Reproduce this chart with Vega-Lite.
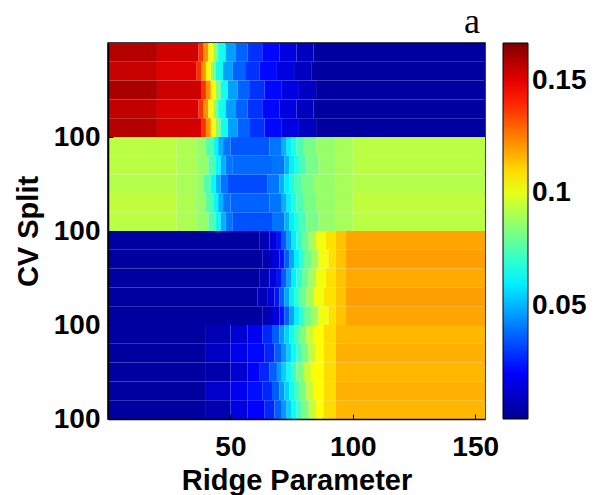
{
"$schema":"https://vega.github.io/schema/vega-lite/v6.json",
"width":377,"height":376,
"autosize":{"type":"none"},
"padding":{"left":108,"top":43,"right":114,"bottom":76},
"background":"white",
"title":{"text":"a","font":"Liberation Serif","fontSize":36,"fontWeight":"normal","anchor":"end","frame":"group","baseline":"bottom","offset":-34,"dx":-5,"color":"black"},
"data":{"values":[
{"x":0,"x2":20,"y":0,"y2":20,"v":0.158},{"x":20,"x2":37,"y":0,"y2":20,"v":0.153},{"x":37,"x2":39,"y":0,"y2":20,"v":0.138},{"x":39,"x2":41,"y":0,"y2":20,"v":0.122},{"x":41,"x2":43,"y":0,"y2":20,"v":0.105},{"x":43,"x2":45,"y":0,"y2":20,"v":0.085},{"x":45,"x2":48,"y":0,"y2":20,"v":0.065},{"x":48,"x2":52,"y":0,"y2":20,"v":0.047},{"x":52,"x2":57,"y":0,"y2":20,"v":0.037},{"x":57,"x2":63,"y":0,"y2":20,"v":0.029},{"x":63,"x2":70,"y":0,"y2":20,"v":0.022},{"x":70,"x2":77,"y":0,"y2":20,"v":0.015},{"x":77,"x2":84,"y":0,"y2":20,"v":0.009},{"x":84,"x2":154,"y":0,"y2":20,"v":0.003},
{"x":0,"x2":20,"y":20,"y2":40,"v":0.155},{"x":20,"x2":36,"y":20,"y2":40,"v":0.151},{"x":36,"x2":38,"y":20,"y2":40,"v":0.138},{"x":38,"x2":40,"y":20,"y2":40,"v":0.122},{"x":40,"x2":42,"y":20,"y2":40,"v":0.105},{"x":42,"x2":44,"y":20,"y2":40,"v":0.085},{"x":44,"x2":47,"y":20,"y2":40,"v":0.065},{"x":47,"x2":51,"y":20,"y2":40,"v":0.047},{"x":51,"x2":56,"y":20,"y2":40,"v":0.037},{"x":56,"x2":62,"y":20,"y2":40,"v":0.029},{"x":62,"x2":69,"y":20,"y2":40,"v":0.022},{"x":69,"x2":76,"y":20,"y2":40,"v":0.015},{"x":76,"x2":83,"y":20,"y2":40,"v":0.009},{"x":83,"x2":154,"y":20,"y2":40,"v":0.003},
{"x":0,"x2":20,"y":40,"y2":60,"v":0.160},{"x":20,"x2":38,"y":40,"y2":60,"v":0.154},{"x":38,"x2":40,"y":40,"y2":60,"v":0.138},{"x":40,"x2":42,"y":40,"y2":60,"v":0.122},{"x":42,"x2":44,"y":40,"y2":60,"v":0.105},{"x":44,"x2":46,"y":40,"y2":60,"v":0.085},{"x":46,"x2":49,"y":40,"y2":60,"v":0.065},{"x":49,"x2":53,"y":40,"y2":60,"v":0.047},{"x":53,"x2":58,"y":40,"y2":60,"v":0.037},{"x":58,"x2":64,"y":40,"y2":60,"v":0.029},{"x":64,"x2":71,"y":40,"y2":60,"v":0.022},{"x":71,"x2":78,"y":40,"y2":60,"v":0.015},{"x":78,"x2":85,"y":40,"y2":60,"v":0.009},{"x":85,"x2":154,"y":40,"y2":60,"v":0.003},
{"x":0,"x2":20,"y":60,"y2":80,"v":0.156},{"x":20,"x2":37,"y":60,"y2":80,"v":0.152},{"x":37,"x2":39,"y":60,"y2":80,"v":0.138},{"x":39,"x2":41,"y":60,"y2":80,"v":0.122},{"x":41,"x2":43,"y":60,"y2":80,"v":0.105},{"x":43,"x2":45,"y":60,"y2":80,"v":0.085},{"x":45,"x2":48,"y":60,"y2":80,"v":0.065},{"x":48,"x2":52,"y":60,"y2":80,"v":0.047},{"x":52,"x2":57,"y":60,"y2":80,"v":0.037},{"x":57,"x2":63,"y":60,"y2":80,"v":0.029},{"x":63,"x2":70,"y":60,"y2":80,"v":0.022},{"x":70,"x2":77,"y":60,"y2":80,"v":0.015},{"x":77,"x2":84,"y":60,"y2":80,"v":0.009},{"x":84,"x2":154,"y":60,"y2":80,"v":0.003},
{"x":0,"x2":20,"y":80,"y2":100,"v":0.158},{"x":20,"x2":38,"y":80,"y2":100,"v":0.153},{"x":38,"x2":40,"y":80,"y2":100,"v":0.138},{"x":40,"x2":42,"y":80,"y2":100,"v":0.122},{"x":42,"x2":44,"y":80,"y2":100,"v":0.105},{"x":44,"x2":46,"y":80,"y2":100,"v":0.085},{"x":46,"x2":49,"y":80,"y2":100,"v":0.065},{"x":49,"x2":53,"y":80,"y2":100,"v":0.047},{"x":53,"x2":58,"y":80,"y2":100,"v":0.037},{"x":58,"x2":64,"y":80,"y2":100,"v":0.029},{"x":64,"x2":71,"y":80,"y2":100,"v":0.022},{"x":71,"x2":78,"y":80,"y2":100,"v":0.015},{"x":78,"x2":85,"y":80,"y2":100,"v":0.009},{"x":85,"x2":154,"y":80,"y2":100,"v":0.003},

{"x":0,"x2":28,"y":100,"y2":120,"v":0.093},{"x":28,"x2":36,"y":100,"y2":120,"v":0.091},{"x":36,"x2":40,"y":100,"y2":120,"v":0.087},{"x":40,"x2":43,"y":100,"y2":120,"v":0.076},{"x":43,"x2":45,"y":100,"y2":120,"v":0.062},{"x":45,"x2":47,"y":100,"y2":120,"v":0.050},{"x":47,"x2":50,"y":100,"y2":120,"v":0.040},{"x":50,"x2":66,"y":100,"y2":120,"v":0.035},{"x":66,"x2":71,"y":100,"y2":120,"v":0.040},{"x":71,"x2":73,"y":100,"y2":120,"v":0.050},{"x":73,"x2":75,"y":100,"y2":120,"v":0.060},{"x":75,"x2":77,"y":100,"y2":120,"v":0.067},{"x":77,"x2":80,"y":100,"y2":120,"v":0.075},{"x":80,"x2":85,"y":100,"y2":120,"v":0.082},{"x":85,"x2":93,"y":100,"y2":120,"v":0.087},{"x":93,"x2":100,"y":100,"y2":120,"v":0.090},{"x":100,"x2":154,"y":100,"y2":120,"v":0.093},
{"x":0,"x2":28,"y":120,"y2":140,"v":0.093},{"x":28,"x2":36,"y":120,"y2":140,"v":0.091},{"x":36,"x2":41,"y":120,"y2":140,"v":0.087},{"x":41,"x2":44,"y":120,"y2":140,"v":0.076},{"x":44,"x2":46,"y":120,"y2":140,"v":0.062},{"x":46,"x2":48,"y":120,"y2":140,"v":0.050},{"x":48,"x2":51,"y":120,"y2":140,"v":0.040},{"x":51,"x2":67,"y":120,"y2":140,"v":0.038},{"x":67,"x2":72,"y":120,"y2":140,"v":0.040},{"x":72,"x2":74,"y":120,"y2":140,"v":0.050},{"x":74,"x2":76,"y":120,"y2":140,"v":0.060},{"x":76,"x2":78,"y":120,"y2":140,"v":0.067},{"x":78,"x2":81,"y":120,"y2":140,"v":0.075},{"x":81,"x2":86,"y":120,"y2":140,"v":0.082},{"x":86,"x2":93,"y":120,"y2":140,"v":0.087},{"x":93,"x2":100,"y":120,"y2":140,"v":0.090},{"x":100,"x2":154,"y":120,"y2":140,"v":0.093},
{"x":0,"x2":28,"y":140,"y2":160,"v":0.092},{"x":28,"x2":36,"y":140,"y2":160,"v":0.090},{"x":36,"x2":39,"y":140,"y2":160,"v":0.087},{"x":39,"x2":42,"y":140,"y2":160,"v":0.076},{"x":42,"x2":44,"y":140,"y2":160,"v":0.062},{"x":44,"x2":46,"y":140,"y2":160,"v":0.050},{"x":46,"x2":49,"y":140,"y2":160,"v":0.040},{"x":49,"x2":65,"y":140,"y2":160,"v":0.033},{"x":65,"x2":70,"y":140,"y2":160,"v":0.040},{"x":70,"x2":72,"y":140,"y2":160,"v":0.050},{"x":72,"x2":74,"y":140,"y2":160,"v":0.060},{"x":74,"x2":76,"y":140,"y2":160,"v":0.067},{"x":76,"x2":79,"y":140,"y2":160,"v":0.075},{"x":79,"x2":84,"y":140,"y2":160,"v":0.082},{"x":84,"x2":93,"y":140,"y2":160,"v":0.087},{"x":93,"x2":100,"y":140,"y2":160,"v":0.090},{"x":100,"x2":154,"y":140,"y2":160,"v":0.092},
{"x":0,"x2":28,"y":160,"y2":180,"v":0.094},{"x":28,"x2":36,"y":160,"y2":180,"v":0.091},{"x":36,"x2":40,"y":160,"y2":180,"v":0.087},{"x":40,"x2":43,"y":160,"y2":180,"v":0.076},{"x":43,"x2":45,"y":160,"y2":180,"v":0.062},{"x":45,"x2":47,"y":160,"y2":180,"v":0.050},{"x":47,"x2":50,"y":160,"y2":180,"v":0.040},{"x":50,"x2":66,"y":160,"y2":180,"v":0.037},{"x":66,"x2":71,"y":160,"y2":180,"v":0.040},{"x":71,"x2":73,"y":160,"y2":180,"v":0.050},{"x":73,"x2":75,"y":160,"y2":180,"v":0.060},{"x":75,"x2":77,"y":160,"y2":180,"v":0.067},{"x":77,"x2":80,"y":160,"y2":180,"v":0.075},{"x":80,"x2":85,"y":160,"y2":180,"v":0.082},{"x":85,"x2":93,"y":160,"y2":180,"v":0.087},{"x":93,"x2":100,"y":160,"y2":180,"v":0.090},{"x":100,"x2":154,"y":160,"y2":180,"v":0.094},
{"x":0,"x2":28,"y":180,"y2":200,"v":0.093},{"x":28,"x2":36,"y":180,"y2":200,"v":0.091},{"x":36,"x2":41,"y":180,"y2":200,"v":0.087},{"x":41,"x2":44,"y":180,"y2":200,"v":0.076},{"x":44,"x2":46,"y":180,"y2":200,"v":0.062},{"x":46,"x2":48,"y":180,"y2":200,"v":0.050},{"x":48,"x2":51,"y":180,"y2":200,"v":0.040},{"x":51,"x2":67,"y":180,"y2":200,"v":0.034},{"x":67,"x2":72,"y":180,"y2":200,"v":0.040},{"x":72,"x2":74,"y":180,"y2":200,"v":0.050},{"x":74,"x2":76,"y":180,"y2":200,"v":0.060},{"x":76,"x2":78,"y":180,"y2":200,"v":0.067},{"x":78,"x2":81,"y":180,"y2":200,"v":0.075},{"x":81,"x2":86,"y":180,"y2":200,"v":0.082},{"x":86,"x2":93,"y":180,"y2":200,"v":0.087},{"x":93,"x2":100,"y":180,"y2":200,"v":0.090},{"x":100,"x2":154,"y":180,"y2":200,"v":0.093},

{"x":0,"x2":62,"y":200,"y2":220,"v":0.003},{"x":62,"x2":66,"y":200,"y2":220,"v":0.007},{"x":66,"x2":69,"y":200,"y2":220,"v":0.014},{"x":69,"x2":71,"y":200,"y2":220,"v":0.024},{"x":71,"x2":73,"y":200,"y2":220,"v":0.036},{"x":73,"x2":75,"y":200,"y2":220,"v":0.048},{"x":75,"x2":77,"y":200,"y2":220,"v":0.060},{"x":77,"x2":79,"y":200,"y2":220,"v":0.070},{"x":79,"x2":82,"y":200,"y2":220,"v":0.080},{"x":82,"x2":85,"y":200,"y2":220,"v":0.090},{"x":85,"x2":89,"y":200,"y2":220,"v":0.102},{"x":89,"x2":93,"y":200,"y2":220,"v":0.109},{"x":93,"x2":97,"y":200,"y2":220,"v":0.114},{"x":97,"x2":154,"y":200,"y2":220,"v":0.119},
{"x":0,"x2":63,"y":220,"y2":240,"v":0.003},{"x":63,"x2":67,"y":220,"y2":240,"v":0.007},{"x":67,"x2":70,"y":220,"y2":240,"v":0.014},{"x":70,"x2":72,"y":220,"y2":240,"v":0.024},{"x":72,"x2":74,"y":220,"y2":240,"v":0.036},{"x":74,"x2":76,"y":220,"y2":240,"v":0.048},{"x":76,"x2":78,"y":220,"y2":240,"v":0.060},{"x":78,"x2":80,"y":220,"y2":240,"v":0.070},{"x":80,"x2":83,"y":220,"y2":240,"v":0.080},{"x":83,"x2":86,"y":220,"y2":240,"v":0.090},{"x":86,"x2":90,"y":220,"y2":240,"v":0.102},{"x":90,"x2":93,"y":220,"y2":240,"v":0.109},{"x":93,"x2":97,"y":220,"y2":240,"v":0.114},{"x":97,"x2":154,"y":220,"y2":240,"v":0.120},
{"x":0,"x2":62,"y":240,"y2":260,"v":0.003},{"x":62,"x2":66,"y":240,"y2":260,"v":0.007},{"x":66,"x2":69,"y":240,"y2":260,"v":0.014},{"x":69,"x2":71,"y":240,"y2":260,"v":0.024},{"x":71,"x2":73,"y":240,"y2":260,"v":0.036},{"x":73,"x2":75,"y":240,"y2":260,"v":0.048},{"x":75,"x2":77,"y":240,"y2":260,"v":0.060},{"x":77,"x2":79,"y":240,"y2":260,"v":0.070},{"x":79,"x2":82,"y":240,"y2":260,"v":0.080},{"x":82,"x2":85,"y":240,"y2":260,"v":0.090},{"x":85,"x2":89,"y":240,"y2":260,"v":0.102},{"x":89,"x2":93,"y":240,"y2":260,"v":0.109},{"x":93,"x2":97,"y":240,"y2":260,"v":0.114},{"x":97,"x2":154,"y":240,"y2":260,"v":0.118},
{"x":0,"x2":61,"y":260,"y2":280,"v":0.003},{"x":61,"x2":65,"y":260,"y2":280,"v":0.007},{"x":65,"x2":68,"y":260,"y2":280,"v":0.014},{"x":68,"x2":70,"y":260,"y2":280,"v":0.024},{"x":70,"x2":72,"y":260,"y2":280,"v":0.036},{"x":72,"x2":74,"y":260,"y2":280,"v":0.048},{"x":74,"x2":76,"y":260,"y2":280,"v":0.060},{"x":76,"x2":78,"y":260,"y2":280,"v":0.070},{"x":78,"x2":81,"y":260,"y2":280,"v":0.080},{"x":81,"x2":84,"y":260,"y2":280,"v":0.090},{"x":84,"x2":88,"y":260,"y2":280,"v":0.102},{"x":88,"x2":93,"y":260,"y2":280,"v":0.109},{"x":93,"x2":97,"y":260,"y2":280,"v":0.114},{"x":97,"x2":154,"y":260,"y2":280,"v":0.120},
{"x":0,"x2":63,"y":280,"y2":300,"v":0.003},{"x":63,"x2":67,"y":280,"y2":300,"v":0.007},{"x":67,"x2":70,"y":280,"y2":300,"v":0.014},{"x":70,"x2":72,"y":280,"y2":300,"v":0.024},{"x":72,"x2":74,"y":280,"y2":300,"v":0.036},{"x":74,"x2":76,"y":280,"y2":300,"v":0.048},{"x":76,"x2":78,"y":280,"y2":300,"v":0.060},{"x":78,"x2":80,"y":280,"y2":300,"v":0.070},{"x":80,"x2":83,"y":280,"y2":300,"v":0.080},{"x":83,"x2":86,"y":280,"y2":300,"v":0.090},{"x":86,"x2":90,"y":280,"y2":300,"v":0.102},{"x":90,"x2":93,"y":280,"y2":300,"v":0.109},{"x":93,"x2":97,"y":280,"y2":300,"v":0.114},{"x":97,"x2":154,"y":280,"y2":300,"v":0.119},

{"x":0,"x2":40,"y":300,"y2":320,"v":0.003},{"x":40,"x2":50,"y":300,"y2":320,"v":0.007},{"x":50,"x2":57,"y":300,"y2":320,"v":0.013},{"x":57,"x2":63,"y":300,"y2":320,"v":0.019},{"x":63,"x2":67,"y":300,"y2":320,"v":0.027},{"x":67,"x2":70,"y":300,"y2":320,"v":0.036},{"x":70,"x2":72,"y":300,"y2":320,"v":0.046},{"x":72,"x2":74,"y":300,"y2":320,"v":0.055},{"x":74,"x2":76,"y":300,"y2":320,"v":0.064},{"x":76,"x2":78,"y":300,"y2":320,"v":0.073},{"x":78,"x2":81,"y":300,"y2":320,"v":0.083},{"x":81,"x2":84,"y":300,"y2":320,"v":0.095},{"x":84,"x2":88,"y":300,"y2":320,"v":0.104},{"x":88,"x2":93,"y":300,"y2":320,"v":0.110},{"x":93,"x2":154,"y":300,"y2":320,"v":0.116},
{"x":0,"x2":40,"y":320,"y2":340,"v":0.003},{"x":40,"x2":50,"y":320,"y2":340,"v":0.010},{"x":50,"x2":57,"y":320,"y2":340,"v":0.017},{"x":57,"x2":64,"y":320,"y2":340,"v":0.022},{"x":64,"x2":68,"y":320,"y2":340,"v":0.027},{"x":68,"x2":71,"y":320,"y2":340,"v":0.036},{"x":71,"x2":73,"y":320,"y2":340,"v":0.046},{"x":73,"x2":75,"y":320,"y2":340,"v":0.055},{"x":75,"x2":77,"y":320,"y2":340,"v":0.064},{"x":77,"x2":79,"y":320,"y2":340,"v":0.073},{"x":79,"x2":82,"y":320,"y2":340,"v":0.083},{"x":82,"x2":85,"y":320,"y2":340,"v":0.095},{"x":85,"x2":88,"y":320,"y2":340,"v":0.104},{"x":88,"x2":93,"y":320,"y2":340,"v":0.110},{"x":93,"x2":154,"y":320,"y2":340,"v":0.117},
{"x":0,"x2":40,"y":340,"y2":360,"v":0.003},{"x":40,"x2":50,"y":340,"y2":360,"v":0.005},{"x":50,"x2":57,"y":340,"y2":360,"v":0.012},{"x":57,"x2":62,"y":340,"y2":360,"v":0.020},{"x":62,"x2":66,"y":340,"y2":360,"v":0.027},{"x":66,"x2":69,"y":340,"y2":360,"v":0.036},{"x":69,"x2":71,"y":340,"y2":360,"v":0.046},{"x":71,"x2":73,"y":340,"y2":360,"v":0.055},{"x":73,"x2":75,"y":340,"y2":360,"v":0.064},{"x":75,"x2":77,"y":340,"y2":360,"v":0.073},{"x":77,"x2":80,"y":340,"y2":360,"v":0.083},{"x":80,"x2":83,"y":340,"y2":360,"v":0.095},{"x":83,"x2":88,"y":340,"y2":360,"v":0.104},{"x":88,"x2":93,"y":340,"y2":360,"v":0.110},{"x":93,"x2":154,"y":340,"y2":360,"v":0.116},
{"x":0,"x2":40,"y":360,"y2":380,"v":0.003},{"x":40,"x2":50,"y":360,"y2":380,"v":0.011},{"x":50,"x2":57,"y":360,"y2":380,"v":0.018},{"x":57,"x2":63,"y":360,"y2":380,"v":0.023},{"x":63,"x2":67,"y":360,"y2":380,"v":0.027},{"x":67,"x2":70,"y":360,"y2":380,"v":0.036},{"x":70,"x2":72,"y":360,"y2":380,"v":0.046},{"x":72,"x2":74,"y":360,"y2":380,"v":0.055},{"x":74,"x2":76,"y":360,"y2":380,"v":0.064},{"x":76,"x2":78,"y":360,"y2":380,"v":0.073},{"x":78,"x2":81,"y":360,"y2":380,"v":0.083},{"x":81,"x2":84,"y":360,"y2":380,"v":0.095},{"x":84,"x2":88,"y":360,"y2":380,"v":0.104},{"x":88,"x2":93,"y":360,"y2":380,"v":0.110},{"x":93,"x2":154,"y":360,"y2":380,"v":0.117},
{"x":0,"x2":40,"y":380,"y2":400,"v":0.003},{"x":40,"x2":50,"y":380,"y2":400,"v":0.006},{"x":50,"x2":57,"y":380,"y2":400,"v":0.015},{"x":57,"x2":64,"y":380,"y2":400,"v":0.021},{"x":64,"x2":68,"y":380,"y2":400,"v":0.027},{"x":68,"x2":71,"y":380,"y2":400,"v":0.036},{"x":71,"x2":73,"y":380,"y2":400,"v":0.046},{"x":73,"x2":75,"y":380,"y2":400,"v":0.055},{"x":75,"x2":77,"y":380,"y2":400,"v":0.064},{"x":77,"x2":79,"y":380,"y2":400,"v":0.073},{"x":79,"x2":82,"y":380,"y2":400,"v":0.083},{"x":82,"x2":85,"y":380,"y2":400,"v":0.095},{"x":85,"x2":88,"y":380,"y2":400,"v":0.104},{"x":88,"x2":93,"y":380,"y2":400,"v":0.110},{"x":93,"x2":154,"y":380,"y2":400,"v":0.116}
]},
"mark":{"type":"rect"},
"encoding":{
"x":{"field":"x","type":"quantitative","title":"Ridge Parameter","scale":{"domain":[0,154],"nice":false,"zero":false},
 "axis":{"values":[50,100,150],"format":"d","tickSize":-5,"labelPadding":19,"titlePadding":5,"labelFlush":false,"zindex":1}},
"x2":{"field":"x2"},
"y":{"field":"y","type":"quantitative","title":"CV Split","scale":{"domain":[0,400],"nice":false,"zero":false,"reverse":true},
 "axis":{"values":[100,200,300,400],"labelExpr":"'100'","tickSize":-5,"labelPadding":13,"titlePadding":10,"labelFlush":false,"zindex":1}},
"y2":{"field":"y2"},
"color":{"field":"v","type":"quantitative",
 "scale":{"type":"linear","domain":[0,0.02083,0.0625,0.10417,0.14583,0.16667],"range":["#000090","#0000ff","#00ffff","#ffff00","#ff0000","#800000"],"interpolate":"rgb","clamp":true},
 "legend":{"type":"gradient","title":null,"values":[0.05,0.1,0.15],"format":".2~f","direction":"vertical","orient":"right","gradientLength":376,"gradientThickness":25,"labelFontSize":28,"labelFont":"Liberation Sans","labelFontWeight":"bold","labelColor":"black","offset":18,"padding":0,"labelOffset":4,"gradientStrokeColor":"black","gradientStrokeWidth":1}}
},
"config":{
"view":{"stroke":"black","strokeWidth":1.5},
"axis":{"grid":false,"labelFont":"Liberation Sans","labelFontWeight":"bold","labelFontSize":28,"labelColor":"black","titleFont":"Liberation Sans","titleFontWeight":"bold","titleFontSize":29,"titleColor":"black","domainColor":"black","domainWidth":1.5,"tickColor":"black","tickWidth":1}
}
}
